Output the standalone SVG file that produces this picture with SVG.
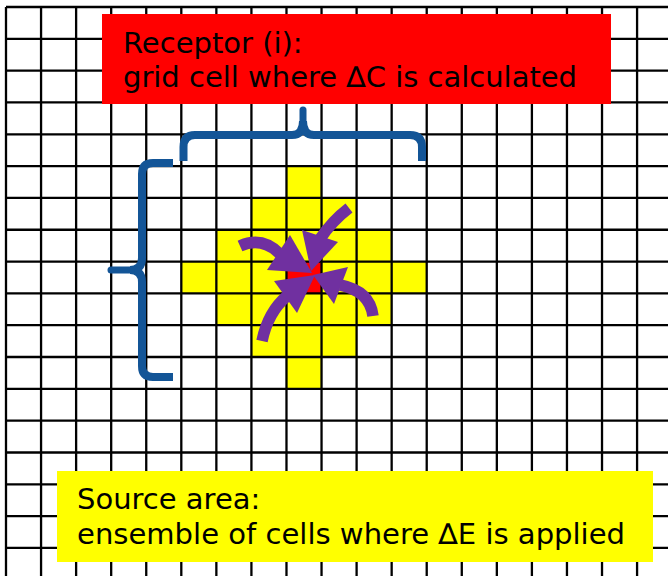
<svg xmlns="http://www.w3.org/2000/svg" width="668" height="576" viewBox="0 0 668 576">
<style>
.grid line{stroke:#000;stroke-width:2.3}
.cell{fill:#FFFF00}
.brace{fill:none;stroke:#135597;stroke-width:8;stroke-linejoin:round}
.shaft{fill:none;stroke:#7030A0;stroke-width:11.5}
.head{fill:#7030A0}
.lbl{font-family:"DejaVu Sans","Verdana",sans-serif;font-size:29px;fill:#000}
</style>
<rect width="668" height="576" fill="#fff"/>
<g id="source-cells">
<rect class="cell" x="286.48" y="166.1" width="35.06" height="31.82"/>
<rect class="cell" x="251.42" y="197.92" width="105.18" height="31.82"/>
<rect class="cell" x="216.36" y="229.74" width="175.3" height="31.82"/>
<rect class="cell" x="181.3" y="261.56" width="245.42" height="31.82"/>
<rect class="cell" x="216.36" y="293.38" width="175.3" height="31.82"/>
<rect class="cell" x="251.42" y="325.2" width="105.18" height="31.82"/>
<rect class="cell" x="286.48" y="357.02" width="35.06" height="31.82"/>
</g>
<g id="receptor-cell">
<rect x="286.48" y="261.56" width="35.06" height="31.82" fill="#FF0000"/>
</g>
<g id="grid" class="grid">
<line x1="6" y1="7" x2="6" y2="576"/>
<line x1="41.06" y1="7" x2="41.06" y2="576"/>
<line x1="76.12" y1="7" x2="76.12" y2="576"/>
<line x1="111.18" y1="7" x2="111.18" y2="576"/>
<line x1="146.24" y1="7" x2="146.24" y2="576"/>
<line x1="181.3" y1="7" x2="181.3" y2="576"/>
<line x1="216.36" y1="7" x2="216.36" y2="576"/>
<line x1="251.42" y1="7" x2="251.42" y2="576"/>
<line x1="286.48" y1="7" x2="286.48" y2="576"/>
<line x1="321.54" y1="7" x2="321.54" y2="576"/>
<line x1="356.6" y1="7" x2="356.6" y2="576"/>
<line x1="391.66" y1="7" x2="391.66" y2="576"/>
<line x1="426.72" y1="7" x2="426.72" y2="576"/>
<line x1="461.78" y1="7" x2="461.78" y2="576"/>
<line x1="496.84" y1="7" x2="496.84" y2="576"/>
<line x1="531.9" y1="7" x2="531.9" y2="576"/>
<line x1="566.96" y1="7" x2="566.96" y2="576"/>
<line x1="602.02" y1="7" x2="602.02" y2="576"/>
<line x1="637.08" y1="7" x2="637.08" y2="576"/>
<line x1="6" y1="7" x2="668" y2="7"/>
<line x1="6" y1="38.82" x2="668" y2="38.82"/>
<line x1="6" y1="70.64" x2="668" y2="70.64"/>
<line x1="6" y1="102.46" x2="668" y2="102.46"/>
<line x1="6" y1="134.28" x2="668" y2="134.28"/>
<line x1="6" y1="166.1" x2="668" y2="166.1"/>
<line x1="6" y1="197.92" x2="668" y2="197.92"/>
<line x1="6" y1="229.74" x2="668" y2="229.74"/>
<line x1="6" y1="261.56" x2="668" y2="261.56"/>
<line x1="6" y1="293.38" x2="668" y2="293.38"/>
<line x1="6" y1="325.2" x2="668" y2="325.2"/>
<line x1="6" y1="357.02" x2="668" y2="357.02"/>
<line x1="6" y1="388.84" x2="668" y2="388.84"/>
<line x1="6" y1="420.66" x2="668" y2="420.66"/>
<line x1="6" y1="452.48" x2="668" y2="452.48"/>
<line x1="6" y1="484.3" x2="668" y2="484.3"/>
<line x1="6" y1="516.12" x2="668" y2="516.12"/>
<line x1="6" y1="547.94" x2="668" y2="547.94"/>
</g>
<g id="receptor-label">
<rect x="102" y="14" width="509" height="90" fill="#FF0000"/>
<text class="lbl" x="123" y="52.5">Receptor (i):</text>
<text class="lbl" x="123" y="87" textLength="454" lengthAdjust="spacingAndGlyphs">grid cell where ∆C is calculated</text>
</g>
<g id="source-label">
<rect x="57" y="471" width="596" height="91" fill="#FFFF00"/>
<text class="lbl" x="77" y="509">Source area:</text>
<text class="lbl" x="77" y="544" textLength="548" lengthAdjust="spacingAndGlyphs">ensemble of cells where ∆E is applied</text>
</g>
<g id="brace-top">
<path class="brace" d="M183.5,161 V147 Q183.5,135 195,135 H292 Q303,135 303,121"/>
<path class="brace" d="M422,161 V147 Q422,135 410,135 H314 Q303,135 303,121"/>
<path d="M303,122 V110" stroke="#135597" stroke-width="7" stroke-linecap="round"/>
</g>
<g id="brace-left">
<path class="brace" d="M173,163 H153 Q142,163 142,174 V258 Q142,270 130,270"/>
<path class="brace" d="M173,377 H153 Q142,377 142,366 V282 Q142,270 130,270"/>
<path d="M131,270 H111" stroke="#135597" stroke-width="7" stroke-linecap="round"/>
</g>
<g id="connectors">
<path class="shaft" d="M240,246 Q262,236 280,254"/>
<polygon class="head" points="290,235 267,270 312,273"/>
<path class="shaft" d="M349,208 Q332,221 320,239"/>
<polygon class="head" points="302,230 338,242 311,271"/>
<path class="shaft" d="M262,341 Q268,312 287,296"/>
<polygon class="head" points="274,281 297,313 315,275"/>
<path class="shaft" d="M373,316 Q370,291 340,285"/>
<polygon class="head" points="348,267 334,304 313,275"/>
</g>
</svg>
